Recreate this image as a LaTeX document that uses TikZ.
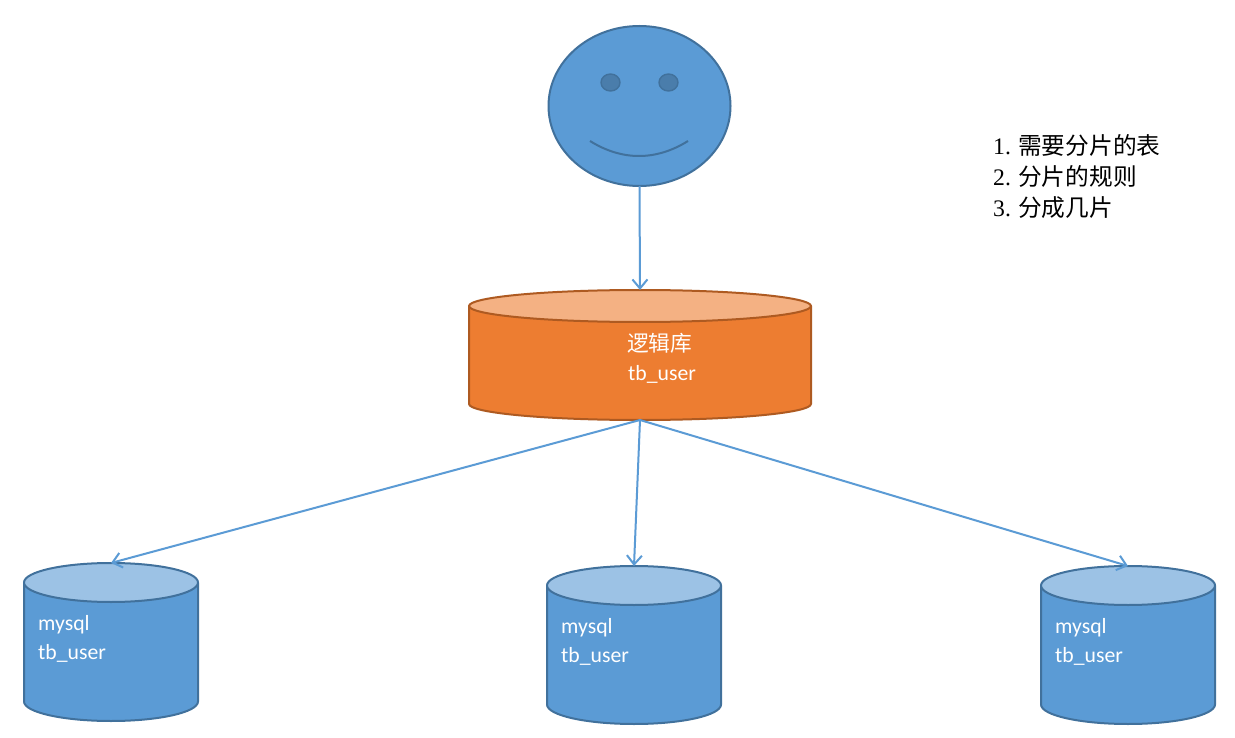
\documentclass[tikz,border=0pt]{standalone}
\usepackage{fontspec}
\setmainfont{Carlito}
\newfontfamily\cjk{Noto Sans CJK SC}
\newfontfamily\numf{Liberation Serif}
\usetikzlibrary{arrows.meta,shapes.geometric}
\definecolor{bluefill}{HTML}{5B9BD5}
\definecolor{bluelight}{HTML}{9CC2E5}
\definecolor{bluestroke}{HTML}{41719C}
\definecolor{orangefill}{HTML}{ED7D31}
\definecolor{orangelight}{HTML}{F4B183}
\definecolor{orangestroke}{HTML}{AE5A21}
\definecolor{eyefill}{HTML}{4A7DAB}
\tikzset{
  conn/.style={draw=bluefill,line width=2pt,-{Straight Barb[length=9pt,width=15pt,line width=2pt]}},
  shapeline/.style={line width=2pt,line join=round},
  frame/.style={inner sep=0pt,outer sep=0pt,rectangle},
  dbtext/.style={text=white,font=\fontsize{21.7}{24}\selectfont,anchor=west,inner sep=0pt},
  listtext/.style={text=black,anchor=west,inner sep=0pt,align=left,font=\fontsize{23.7}{31}\selectfont},
}
% name, x1, y1, x2, y2, ry, body, top, stroke
\newcommand{\dbcyl}[9]{%
  \node[frame,minimum width=#4pt-#2pt,minimum height=#5pt-#3pt] (#1) at ({(#2+#4)/2},{(#3+#5)/2}) {};
  \path[shapeline,draw=#9,fill=#7] (#2,#3+#6) -- (#2,#5-#6)
     arc[start angle=180,end angle=360,x radius={(#4-#2)/2},y radius=-#6]
     -- (#4,#3+#6) -- cycle;
  \path[shapeline,draw=#9,fill=#8] ({(#2+#4)/2},#3+#6) ellipse[x radius={(#4-#2)/2},y radius=#6];
}
\begin{document}
\begin{tikzpicture}[x=1pt,y=-1pt]
\useasboundingbox[fill=white] (0,0) rectangle (1235,738);

% face
\node[inner sep=0pt,outer sep=0pt,shape=ellipse,draw=bluestroke,fill=bluefill,line width=2pt,minimum width=182pt,minimum height=160pt] (face) at (639.5,106) {};
\path[draw=bluestroke,fill=eyefill,line width=1.4pt] (610.5,82.5) ellipse[x radius=9.5,y radius=8.5];
\path[draw=bluestroke,fill=eyefill,line width=1.4pt] (668.5,82.5) ellipse[x radius=9.5,y radius=8.5];
\path[draw=bluestroke,line width=2pt] (590,141) .. controls (622,161) and (656,161) .. (688,141);

% cylinders
\dbcyl{logic}{469}{290}{811}{420}{16}{orangefill}{orangelight}{orangestroke}
\dbcyl{dba}{24}{563}{198}{721}{19.5}{bluefill}{bluelight}{bluestroke}
\dbcyl{dbb}{547}{566}{721}{724}{19.5}{bluefill}{bluelight}{bluestroke}
\dbcyl{dbc}{1041}{566}{1215}{724}{19.5}{bluefill}{bluelight}{bluestroke}

% connectors
\draw[conn] (face.south) -- (logic.north);
\draw[conn] (logic.south) -- (dba.north);
\draw[conn] (logic.south) -- (dbb.north);
\draw[conn] (logic.south) -- (dbc.north);

% labels
\node[dbtext] (logicone) at (627,343) {\cjk 逻辑库};
\node[dbtext] (logictwo) at (628,374.5) {tb\_user};
\node[dbtext] (daone) at (38,624.5) {mysql};
\node[dbtext] (datwo) at (38,653.5) {tb\_user};
\node[dbtext] (dbone) at (561,627.5) {mysql};
\node[dbtext] (dbtwo) at (561,656.5) {tb\_user};
\node[dbtext] (dcone) at (1055,627.5) {mysql};
\node[dbtext] (dctwo) at (1055,656.5) {tb\_user};

\node[listtext] (notes) at (993,177) {%
  \makebox[25pt][l]{\numf 1.}{\cjk 需要分片的表}\\
  \makebox[25pt][l]{\numf 2.}{\cjk 分片的规则}\\
  \makebox[25pt][l]{\numf 3.}{\cjk 分成几片}};
\end{tikzpicture}
\end{document}
